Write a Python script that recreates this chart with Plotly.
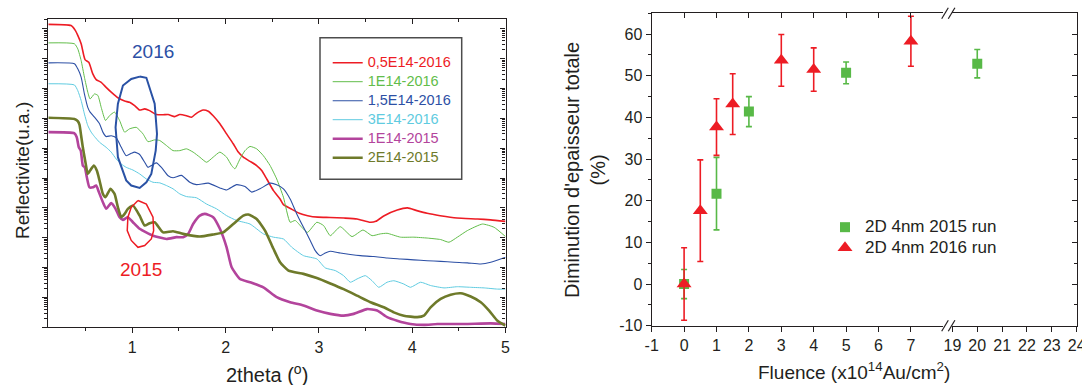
import plotly.graph_objects as go

W, H = 1082, 385
FONT = "Liberation Sans, Arial, sans-serif"
AX = "#231f20"

# ---------------- Left panel: X-ray reflectivity (x = 2theta deg, value = log10 reflectivity, a.u.)
x_red = [0.10, 0.344, 0.391, 0.416, 0.452, 0.480, 0.495, 0.534, 0.577, 0.613, 0.667, 0.720, 0.774, 0.846, 0.918, 0.971, 1.025, 1.079, 1.133, 1.186, 1.258, 1.330, 1.384, 1.455, 1.509, 1.581, 1.634, 1.688, 1.760, 1.814, 1.867, 1.939, 2.011, 2.082, 2.136, 2.190, 2.262, 2.333, 2.387, 2.441, 2.513, 2.584, 2.620, 2.700, 2.790, 2.880, 2.990, 3.120, 3.270, 3.410, 3.550, 3.610, 3.700, 3.840, 3.950, 4.050, 4.160, 4.300, 4.480, 4.700, 4.840, 5.000]
lr_red = [10.15, 10.11, 9.94, 9.78, 9.50, 9.11, 8.96, 8.88, 8.49, 8.30, 8.21, 8.04, 7.88, 7.69, 7.58, 7.54, 7.43, 7.28, 7.32, 7.26, 7.13, 7.12, 7.13, 7.06, 7.13, 7.09, 7.04, 7.17, 7.28, 7.24, 7.09, 6.82, 6.48, 6.15, 5.87, 5.70, 5.56, 5.42, 5.25, 4.97, 4.58, 4.30, 4.11, 3.97, 3.82, 3.74, 3.69, 3.68, 3.66, 3.63, 3.52, 3.55, 3.74, 3.93, 4.00, 3.91, 3.82, 3.74, 3.66, 3.63, 3.60, 3.55]

x_grn = [0.10, 0.380, 0.416, 0.452, 0.487, 0.523, 0.548, 0.595, 0.631, 0.667, 0.713, 0.756, 0.810, 0.864, 0.918, 0.971, 1.043, 1.115, 1.168, 1.240, 1.294, 1.366, 1.437, 1.509, 1.581, 1.652, 1.724, 1.796, 1.867, 1.939, 2.011, 2.065, 2.100, 2.154, 2.208, 2.262, 2.333, 2.405, 2.477, 2.548, 2.620, 2.692, 2.746, 2.817, 2.878, 2.978, 3.050, 3.122, 3.229, 3.355, 3.473, 3.570, 3.659, 3.731, 3.875, 4.018, 4.161, 4.305, 4.394, 4.484, 4.591, 4.753, 4.878, 5.000]
lr_grn = [9.53, 9.50, 9.33, 8.94, 8.38, 7.88, 7.65, 7.82, 7.77, 7.37, 6.93, 7.09, 7.21, 6.93, 6.54, 6.65, 6.70, 6.48, 6.22, 6.28, 6.26, 6.09, 5.92, 5.92, 5.98, 5.87, 5.70, 5.53, 5.70, 5.87, 5.70, 5.42, 5.31, 5.64, 5.92, 6.06, 5.98, 5.75, 5.42, 4.97, 4.36, 3.52, 3.58, 3.35, 3.18, 3.52, 3.41, 3.07, 3.37, 3.04, 3.26, 3.07, 3.13, 3.15, 3.02, 3.02, 2.99, 2.94, 2.85, 3.02, 3.24, 3.46, 3.35, 3.04]

x_blu = [0.10, 0.380, 0.416, 0.452, 0.487, 0.523, 0.548, 0.595, 0.649, 0.685, 0.720, 0.774, 0.828, 0.882, 0.935, 0.989, 1.025, 1.079, 1.133, 1.168, 1.222, 1.258, 1.312, 1.384, 1.437, 1.527, 1.616, 1.688, 1.814, 1.939, 2.011, 2.118, 2.208, 2.280, 2.369, 2.477, 2.548, 2.620, 2.692, 2.763, 2.835, 2.907, 2.961, 3.014, 3.068, 3.122, 3.229, 3.337, 3.444, 3.588, 3.731, 3.875, 4.018, 4.161, 4.305, 4.448, 4.591, 4.735, 4.842, 5.000]
lr_blu = [8.86, 8.83, 8.66, 8.38, 7.82, 7.37, 7.21, 7.04, 6.82, 6.54, 6.39, 6.42, 6.35, 6.03, 5.75, 5.83, 5.87, 5.79, 5.53, 5.36, 5.45, 5.51, 5.36, 5.08, 5.01, 5.09, 4.86, 4.78, 4.83, 4.67, 4.60, 4.78, 4.72, 4.53, 4.64, 4.83, 4.78, 4.64, 4.30, 3.80, 3.35, 2.91, 2.57, 2.40, 2.49, 2.55, 2.49, 2.44, 2.40, 2.37, 2.32, 2.29, 2.26, 2.23, 2.21, 2.18, 2.16, 2.12, 2.18, 2.35]

x_cyn = [0.10, 0.380, 0.416, 0.452, 0.487, 0.523, 0.559, 0.595, 0.649, 0.720, 0.774, 0.828, 0.882, 0.935, 1.007, 1.079, 1.151, 1.222, 1.294, 1.366, 1.437, 1.509, 1.581, 1.688, 1.796, 1.903, 2.011, 2.118, 2.262, 2.405, 2.513, 2.620, 2.710, 2.835, 2.978, 3.068, 3.176, 3.265, 3.337, 3.409, 3.498, 3.570, 3.642, 3.731, 3.803, 3.910, 3.982, 4.090, 4.197, 4.341, 4.484, 4.627, 4.771, 4.914, 5.000]
lr_cyn = [8.16, 8.12, 7.93, 7.60, 7.15, 6.76, 6.54, 6.39, 6.20, 6.03, 5.87, 5.64, 5.47, 5.36, 5.27, 5.14, 4.97, 4.86, 4.84, 4.75, 4.64, 4.47, 4.38, 4.34, 4.13, 3.97, 3.74, 3.58, 3.46, 3.13, 3.02, 2.96, 2.68, 2.40, 2.29, 1.99, 1.90, 1.73, 1.51, 1.62, 1.73, 1.56, 1.34, 1.51, 1.56, 1.45, 1.34, 1.51, 1.40, 1.32, 1.36, 1.34, 1.32, 1.28, 1.28]

x_mag = [0.10, 0.380, 0.405, 0.427, 0.448, 0.470, 0.491, 0.513, 0.541, 0.577, 0.613, 0.642, 0.685, 0.720, 0.774, 0.821, 0.864, 0.900, 0.953, 1.007, 1.079, 1.222, 1.366, 1.473, 1.545, 1.599, 1.652, 1.724, 1.778, 1.867, 1.939, 2.011, 2.065, 2.154, 2.262, 2.405, 2.548, 2.692, 2.835, 2.978, 3.122, 3.265, 3.373, 3.516, 3.624, 3.731, 3.839, 3.982, 4.125, 4.269, 4.556, 4.842, 5.000]
lr_mag = [6.54, 6.50, 6.37, 6.03, 5.92, 5.42, 5.36, 5.03, 4.69, 4.69, 4.75, 4.53, 4.19, 3.97, 4.16, 3.97, 3.69, 3.60, 3.69, 3.52, 3.30, 3.07, 2.96, 3.02, 3.02, 3.13, 3.46, 3.74, 3.80, 3.69, 3.30, 2.68, 2.01, 1.62, 1.51, 1.34, 1.01, 0.84, 0.73, 0.56, 0.45, 0.39, 0.45, 0.61, 0.56, 0.34, 0.22, 0.11, 0.08, 0.11, 0.11, 0.13, 0.11]

x_olv = [0.10, 0.380, 0.416, 0.434, 0.452, 0.470, 0.498, 0.523, 0.548, 0.588, 0.620, 0.649, 0.685, 0.713, 0.767, 0.810, 0.846, 0.882, 0.918, 0.953, 1.007, 1.079, 1.133, 1.186, 1.240, 1.330, 1.437, 1.545, 1.724, 1.867, 1.975, 2.082, 2.190, 2.244, 2.333, 2.423, 2.513, 2.584, 2.674, 2.835, 2.978, 3.122, 3.265, 3.409, 3.552, 3.695, 3.803, 3.910, 4.054, 4.125, 4.197, 4.305, 4.412, 4.520, 4.627, 4.735, 4.824, 4.914, 5.000]
lr_olv = [7.02, 6.98, 6.91, 6.79, 6.42, 6.03, 5.53, 5.14, 5.25, 5.42, 5.25, 4.92, 4.47, 4.36, 4.64, 4.47, 4.02, 3.69, 3.80, 3.97, 4.08, 3.74, 3.41, 3.49, 3.52, 3.18, 3.22, 3.13, 3.04, 3.11, 3.18, 3.46, 3.74, 3.78, 3.63, 3.24, 2.63, 2.18, 1.90, 1.79, 1.65, 1.47, 1.28, 1.06, 0.84, 0.67, 0.50, 0.39, 0.34, 0.39, 0.67, 0.95, 1.09, 1.14, 1.03, 0.84, 0.56, 0.22, 0.06]

series_names = ["0,5E14-2016", "1E14-2016", "1,5E14-2016", "3E14-2016", "1E14-2015", "2E14-2015"]
series_colors = ["#ed1c24", "#62bd4a", "#2d50a5", "#5fcbe0", "#b3449c", "#6e7a2a"]
series_widths = [1.6, 1.0, 1.1, 1.0, 2.6, 2.6]

# hand-drawn highlight loops (2theta, log10 R)
x_loop16 = [1.079, 1.151, 1.240, 1.265, 1.251, 1.204, 1.151, 1.079, 0.989, 0.935, 0.846, 0.821, 0.846, 0.900, 0.989, 1.079]
lr_loop16 = [8.40, 8.36, 7.49, 6.48, 5.92, 5.14, 4.86, 4.67, 4.75, 4.92, 5.70, 6.70, 7.49, 8.10, 8.32, 8.40]
x_loop15 = [1.061, 1.151, 1.222, 1.229, 1.204, 1.133, 1.061, 0.989, 0.946, 0.953, 0.989, 1.061]
lr_loop15 = [4.25, 4.13, 3.69, 3.24, 2.96, 2.74, 2.68, 2.91, 3.24, 3.69, 4.02, 4.25]

# ---------------- Right panel: thickness decrease vs fluence
fl_2015 = [0, 1, 2, 5, 20]
dim_2015 = [0.0, 21.7, 41.4, 50.7, 52.9]
err_2015 = [3.5, 8.7, 3.6, 2.6, 3.4]
fl_2016 = [0, 0.5, 1, 1.5, 3, 4, 7]
dim_2016 = [0.0, 17.6, 37.7, 43.2, 53.7, 51.5, 58.3]
err_2016 = [8.7, 12.2, 6.8, 7.3, 6.2, 5.2, 6.0]

fl_ticks_low = [-1, 0, 1, 2, 3, 4, 5, 6, 7]
fl_ticks_high = [19, 20, 21, 22, 23, 24]
dim_ticks = [-10, 0, 10, 20, 30, 40, 50, 60]

GREEN = "#58b947"
RED = "#ed1c24"


def px_x(p):
    return p / W


def px_y(p):
    return 1 - p / H


fig = go.Figure()

for xs, ls, nm, col, wd in zip([x_red, x_grn, x_blu, x_cyn, x_mag, x_olv],
                               [lr_red, lr_grn, lr_blu, lr_cyn, lr_mag, lr_olv],
                               series_names, series_colors, series_widths):
    fig.add_trace(go.Scatter(
        x=xs, y=[10 ** v for v in ls], mode="lines",
        line=dict(color=col, width=wd, shape="spline", smoothing=0.5),
        name='<span style="color:%s;font-size:14.5px">%s</span>' % (col, nm),
        legend="legend", xaxis="x", yaxis="y"))

# the loops live on the mirrored frame axes (same ranges) so those frame axes get drawn
fig.add_trace(go.Scatter(x=x_loop16, y=[10 ** v for v in lr_loop16], mode="lines",
                         line=dict(color="#2a52a5", width=2), showlegend=False,
                         xaxis="x3", yaxis="y"))
fig.add_trace(go.Scatter(x=x_loop15, y=[10 ** v for v in lr_loop15], mode="lines",
                         line=dict(color=RED, width=1.5), showlegend=False,
                         xaxis="x", yaxis="y3"))

BREAK = 10


def split(xs, ys, es, low):
    idx = [i for i, v in enumerate(xs) if (v < BREAK) == low]
    return [xs[i] for i in idx], [ys[i] for i in idx], [es[i] for i in idx]


panel_axes = {  # (series, low segment?) -> (xaxis, yaxis)
    ("2015", True): ("x2", "y2"),
    ("2015", False): ("x4", "y4"),
    ("2016", True): ("x5", "y2"),
    ("2016", False): ("x4", "y4"),
}
for (key, xs, ys, es, col, sym, size, nm) in [
        ("2015", fl_2015, dim_2015, err_2015, GREEN, "square", 10, "2D 4nm 2015 run"),
        ("2016", fl_2016, dim_2016, err_2016, RED, "triangle-up", 13, "2D 4nm 2016 run")]:
    for low in (True, False):
        sx, sy, se = split(xs, ys, es, low)
        if not sx:
            continue
        xa, ya = panel_axes[(key, low)]
        fig.add_trace(go.Scatter(
            x=sx, y=sy, mode="markers",
            marker=dict(symbol=sym, size=size, color=col, line=dict(width=0)),
            error_y=dict(type="data", array=se, visible=True, color=col, thickness=1.6, width=3),
            name='<span style="font-size:17px">%s</span>' % nm,
            showlegend=low, legend="legend2", xaxis=xa, yaxis=ya))

base = dict(showline=True, linecolor=AX, linewidth=1.3, showgrid=False, zeroline=False,
            tickcolor=AX, tickwidth=1.2, tickfont=dict(size=16, color=AX, family=FONT))

# left panel geometry (pixels)
L_x0, L_x1, L_yb, L_yt = 48.3, 505.5, 327.3, 19.0
ldom_x = [px_x(L_x0), px_x(L_x1)]
ldom_y = [px_y(L_yb), px_y(L_yt)]
# right panel geometry
R_x0, R_xb1, R_xb2, R_x1, R_yb, R_yt = 651.7, 943.3, 952.4, 1076.7, 325.7, 13.3
rdom_y = [px_y(R_yb), px_y(R_yt)]
rdom_x_low = [px_x(R_x0), px_x(R_xb1)]
rdom_x_high = [px_x(R_xb2), px_x(R_x1)]

minor_out = dict(ticks="outside", ticklen=3, tickcolor=AX, tickwidth=1)
minor_in = dict(ticks="inside", ticklen=3, tickcolor=AX, tickwidth=1)

fig.update_layout(
    width=W, height=H, margin=dict(l=0, r=0, t=0, b=0, autoexpand=False),
    paper_bgcolor="white", plot_bgcolor="rgba(0,0,0,0)",
    font=dict(family=FONT, color=AX),
    # left panel: bottom / left (outside ticks)
    xaxis=dict(base, domain=ldom_x, range=[0.1, 5.0], anchor="y", tickmode="linear", tick0=0, dtick=1,
               ticks="outside", ticklen=5, minor=dict(minor_out, tickmode="linear", tick0=0, dtick=0.5)),
    yaxis=dict(base, domain=ldom_y, type="log", range=[0, 10.33], anchor="x", dtick=1,
               ticks="outside", ticklen=5, showticklabels=False, minor=dict(minor_out, dtick="D1")),
    # left panel: top / right frame (inside ticks)
    xaxis3=dict(base, overlaying="x", side="top", anchor="y", range=[0.1, 5.0],
                tickmode="linear", tick0=0, dtick=1, ticks="inside", ticklen=5, showticklabels=False,
                minor=dict(minor_in, tickmode="linear", tick0=0, dtick=0.5)),
    yaxis3=dict(base, type="log", overlaying="y", side="right", anchor="x",
                range=[0, 10.33], dtick=1, ticks="inside", ticklen=5, showticklabels=False,
                minor=dict(minor_in, dtick="D1")),
    # right panel, low fluence segment
    xaxis2=dict(base, domain=rdom_x_low, range=[-1, 8], anchor="y2",
                tickmode="array", tickvals=fl_ticks_low, ticktext=[str(v) for v in fl_ticks_low],
                ticks="outside", ticklen=5),
    xaxis5=dict(base, overlaying="x2", side="top", anchor="y2", range=[-1, 8],
                tickmode="array", tickvals=fl_ticks_low, ticks="inside", ticklen=5, showticklabels=False),
    yaxis2=dict(base, domain=rdom_y, range=[-10, 65], anchor="x2", tickmode="array",
                tickvals=dim_ticks, ticktext=[str(v) for v in dim_ticks], ticks="outside", ticklen=5,
                minor=dict(minor_out, tickmode="linear", tick0=5, dtick=10)),
    # right panel, high fluence segment
    xaxis4=dict(base, domain=rdom_x_high, range=[19, 24], anchor="y4", mirror=True,
                tickmode="array", tickvals=fl_ticks_high, ticktext=[str(v) for v in fl_ticks_high],
                ticks="outside", ticklen=5, ticklabeloverflow="allow"),
    yaxis4=dict(base, domain=rdom_y, side="right", anchor="x4", range=[-10, 65],
                tickmode="array", tickvals=dim_ticks, ticks="inside", ticklen=5, showticklabels=False,
                minor=dict(minor_in, tickmode="linear", tick0=5, dtick=10)),
    legend=dict(x=px_x(327.7), y=px_y(48.2), xanchor="left", yanchor="top", bgcolor="rgba(0,0,0,0)",
                borderwidth=0, font=dict(size=12, family=FONT), itemwidth=30),
    legend2=dict(x=px_x(825), y=px_y(211.9), xanchor="left", yanchor="top", bgcolor="rgba(0,0,0,0)",
                 borderwidth=0, font=dict(size=13.5, family=FONT, color=AX), itemwidth=30),
    showlegend=True,
)

shapes = [
    # left legend frame
    dict(type="rect", xref="paper", yref="paper", x0=px_x(320), x1=px_x(461.7), y0=px_y(179.3), y1=px_y(37.7),
         line=dict(color="#4d4d4d", width=1.5), fillcolor="rgba(0,0,0,0)", layer="above"),
]
# axis break marks "//" on the right panel
for ycen in (R_yb, R_yt):
    for xc in (945.0, 951.6):
        shapes.append(dict(type="line", xref="paper", yref="paper",
                           x0=px_x(xc - 3.3), y0=px_y(ycen + 5.5), x1=px_x(xc + 3.3), y1=px_y(ycen - 5.5),
                           line=dict(color=AX, width=1.2), layer="above"))
fig.update_layout(shapes=shapes)

ann = [
    dict(text="2016", x=px_x(153.3), y=px_y(51.7), font=dict(size=19, color="#2d50a5")),
    dict(text="2015", x=px_x(141.0), y=px_y(269.3), font=dict(size=19, color=RED)),
    dict(text="Reflectivite(u.a.)", x=px_x(22), y=px_y(171), textangle=-90, font=dict(size=19, color=AX)),
    dict(text="2theta (<sup>o</sup>)", x=px_x(266.7), y=px_y(373), font=dict(size=20, color=AX)),
    dict(text="Diminution d'epaisseur totale<br>(%)", x=px_x(585), y=px_y(170), textangle=-90,
         font=dict(size=20, color=AX)),
    dict(text="Fluence (x10<sup>14</sup>Au/cm<sup>2</sup>)", x=px_x(854), y=px_y(371),
         font=dict(size=19, color=AX)),
]
for a in ann:
    a.update(xref="paper", yref="paper", showarrow=False, xanchor="center", yanchor="middle")
    a["font"]["family"] = FONT
fig.update_layout(annotations=ann)

fig.write_html("out.html", config={"displayModeBar": False},
               post_script="document.body.style.margin='0px';document.body.style.overflow='hidden';")
